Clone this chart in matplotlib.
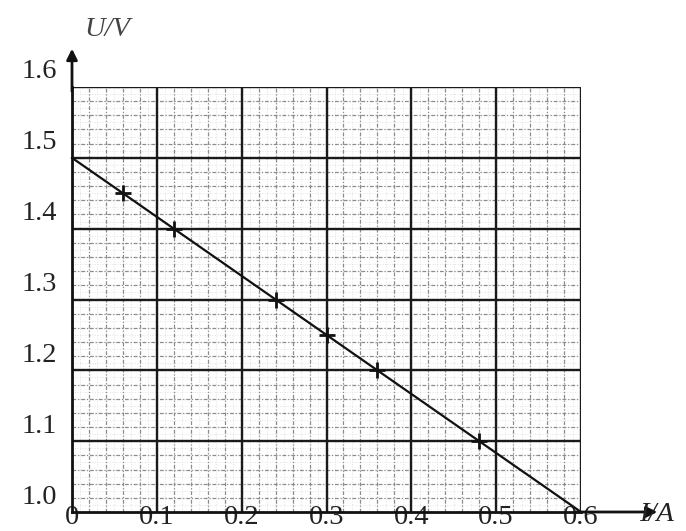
import matplotlib
matplotlib.use("Agg")
import matplotlib.pyplot as plt
import numpy as np
from matplotlib.transforms import ScaledTranslation

# measured points (I in A, U in V)
current = [0.06, 0.12, 0.24, 0.30, 0.36, 0.48]
voltage = [1.45, 1.40, 1.30, 1.25, 1.20, 1.10]

# fitted line end points
fit_I = [0.0, 0.6]
fit_U = [1.5, 1.0]

x_ticks = [0, 0.1, 0.2, 0.3, 0.4, 0.5, 0.6]
x_labels = ["0", "0.1", "0.2", "0.3", "0.4", "0.5", "0.6"]
y_ticks = [1.0, 1.1, 1.2, 1.3, 1.4, 1.5, 1.6]
y_labels = ["1.0", "1.1", "1.2", "1.3", "1.4", "1.5", "1.6"]

plt.rcParams['font.family'] = ['Liberation Serif', 'DejaVu Serif']
fs = 20.5

fig = plt.figure(figsize=(6.86, 5.31), dpi=100)
ax = fig.add_axes([72/686, 19/531, 509/686, 425/531])
ax.set_xlim(0, 0.6)
ax.set_ylim(1.0, 1.6)

# graph paper: faint 0.01 dotted, 0.02 dashed, 0.1 solid
for v in np.arange(0.01, 0.6, 0.01):
    ax.axvline(v, color="#dadada", lw=0.6, ls=(0, (1, 2)), zorder=1)
for v in np.arange(1.01, 1.6, 0.01):
    ax.axhline(v, color="#dadada", lw=0.6, ls=(0, (1, 2)), zorder=1)
for v in np.arange(0.02, 0.6, 0.02):
    ax.axvline(v, color="#8c8c8c", lw=0.9, ls=(0, (3, 1.5, 1, 1.5)), zorder=2)
for v in np.arange(1.02, 1.6, 0.02):
    ax.axhline(v, color="#8c8c8c", lw=0.9, ls=(0, (3, 1.5, 1, 1.5)), zorder=2)
for v in x_ticks[1:]:
    ax.axvline(v, color="#1a1a1a", lw=1.7, zorder=3)
for v in y_ticks[1:]:
    ax.axhline(v, color="#1a1a1a", lw=1.7, zorder=3)

ax.plot(fit_I, fit_U, color="#111111", lw=1.6, zorder=5, clip_on=False)
ax.plot(current, voltage, ls="none", marker="+", ms=12, mew=2.0,
        color="#111111", zorder=6)

for s in ["top", "right"]:
    ax.spines[s].set_visible(False)
for s in ["left", "bottom"]:
    ax.spines[s].set_linewidth(2.0)
    ax.spines[s].set_color("#111111")
    ax.spines[s].set_zorder(7)

# axis arrows
ax.annotate("", xy=(1.15, 0), xytext=(0.99, 0), xycoords="axes fraction",
            arrowprops=dict(arrowstyle="-|>", lw=2.0, color="#111111",
                            mutation_scale=16, shrinkA=0, shrinkB=0))
ax.annotate("", xy=(0, 1.09), xytext=(0, 0.99), xycoords="axes fraction",
            arrowprops=dict(arrowstyle="-|>", lw=2.0, color="#111111",
                            mutation_scale=16, shrinkA=0, shrinkB=0))

ax.set_xticks(x_ticks)
ax.set_xticklabels(x_labels)
ax.set_yticks(y_ticks)
ax.set_yticklabels(y_labels)
ax.tick_params(axis="both", length=0, labelsize=fs, colors="#222222")
ax.tick_params(axis="x", pad=-5)
ax.tick_params(axis="y", pad=11)
for lab in ax.get_yticklabels():
    lab.set_transform(lab.get_transform() + ScaledTranslation(0, 18/100, fig.dpi_scale_trans))
for lab in ax.get_xticklabels():
    lab.set_zorder(8)

ax.text(0.07, 1.135, "U/V", transform=ax.transAxes, fontsize=fs,
        style="italic", color="#444444", ha="center", va="center")
ax.text(1.115, -0.005, "I/A", transform=ax.transAxes, fontsize=fs,
        style="italic", color="#222222", ha="left", va="center")

fig.savefig("out.png", dpi=100)
